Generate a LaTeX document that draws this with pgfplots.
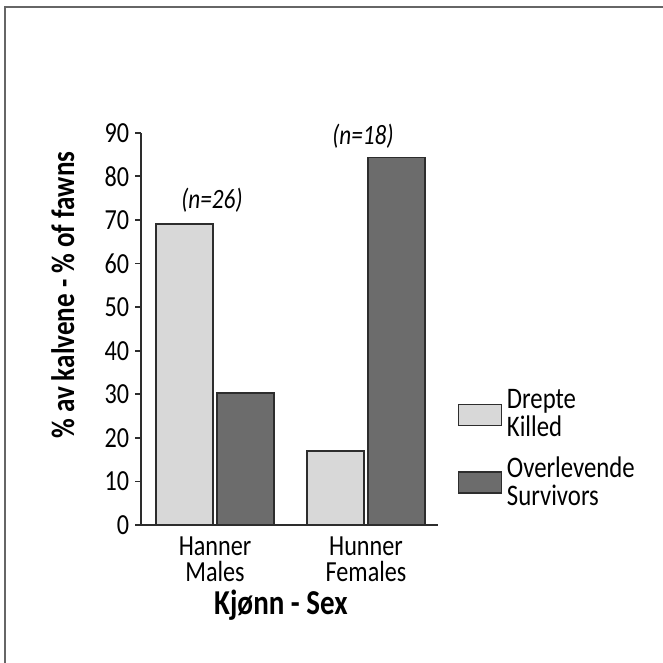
\documentclass[border=0pt]{standalone}
\usepackage{fontspec}
\setmainfont{Carlito}[FakeStretch=0.83]
\usepackage{pgfplots}
\pgfplotsset{compat=1.18}
\definecolor{killed}{RGB}{216,216,216}
\definecolor{surv}{RGB}{108,108,108}
\definecolor{edge}{RGB}{45,45,45}

\begin{document}
\begin{tikzpicture}
  \useasboundingbox (0,0) rectangle (10cm,10cm);
  \fill[white] (0,0) rectangle (10cm,10cm);
  % frame (only top and left edges are visible)
  \draw[line width=0.9pt, black!60] (0.075cm,0) -- (0.075cm,9.894cm) -- (10cm,9.894cm);
  \begin{axis}[
      at={(2.127cm,2.081cm)}, anchor=south west,
      scale only axis, width=4.48cm, height=5.917cm,
      xmin=-0.49, xmax=1.477, ymin=0, ymax=90,
      clip=false,
      axis x line=bottom, axis y line=left,
      axis line style={-, edge, line width=0.8pt},
      ytick={0,10,...,90},
      xtick={0,1},
      xticklabels={{Hanner\\Males},{Hunner\\Females}},
      xtick style={draw=none},
      ytick style={edge, line width=0.8pt},
      tick align=outside, major tick length=0.09cm,
      /pgf/number format/assume math mode=true,
      yticklabel style={font=\fontsize{12.5}{12}\selectfont, xshift=1pt},
      xticklabel style={align=center, font=\fontsize{12.5}{11.2}\selectfont, yshift=1pt},
      ylabel={\% av kalvene - \% of fawns},
      ylabel style={at={(axis description cs:-0.263,0.586)}, anchor=center,
        font=\bfseries\fontsize{14}{14}\selectfont},
      xlabel={Kjønn - Sex},
      xlabel style={at={(axis description cs:0.471,-0.205)}, anchor=center,
        font=\bfseries\fontsize{15}{15}\selectfont},
      ybar, bar width=0.374,
      legend style={draw=none, fill=none, at={(axis description cs:1.064,0.358)},
        anchor=north west, inner sep=0pt, row sep=3pt,
        cells={align=left}, font=\fontsize{12.8}{12}\selectfont},
      legend cell align=left,
      legend image code/.code={\draw[#1] (0cm,-0.16cm) rectangle (0.65cm,0.16cm);},
    ]
    \addplot[bar shift=-0.202, fill=killed, draw=edge, line width=0.7pt]
      coordinates {(0,69) (1,17)};
    \addplot[bar shift=0.202, fill=surv, draw=edge, line width=0.7pt]
      coordinates {(0,30.3) (1,84.3)};
    \legend{{Drepte\\Killed},{Overlevende\\Survivors}}
    \node[font=\itshape\fontsize{12}{12}\selectfont] at (axis cs:-0.02,74.6) {(n=26)};
    \node[font=\itshape\fontsize{12}{12}\selectfont] at (axis cs:0.98,89.1) {(n=18)};
  \end{axis}
\end{tikzpicture}
\end{document}
